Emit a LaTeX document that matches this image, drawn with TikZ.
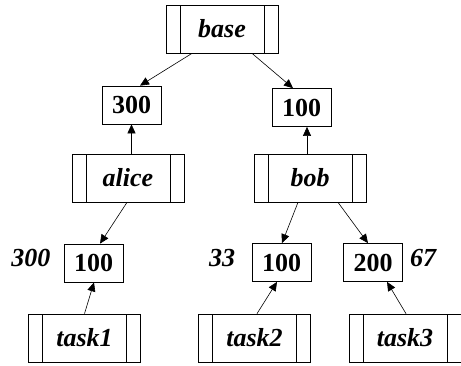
\documentclass[tikz,border=0pt]{standalone}
\usepackage{fontspec}
\setmainfont{Liberation Serif}
\usetikzlibrary{arrows.meta}
\begin{document}
\begin{tikzpicture}[x=1pt,y=-1pt,
  every node/.style={font=\fontsize{26}{30}\selectfont},
  namebox/.style={draw, line width=0.7pt, minimum width=112pt, minimum height=48pt, inner sep=0pt,
    font=\fontsize{26}{30}\selectfont\bfseries\itshape,
    path picture={\draw[line width=0.7pt]
      ([xshift=14pt]path picture bounding box.north west) -- ([xshift=14pt]path picture bounding box.south west)
      ([xshift=-14pt]path picture bounding box.north east) -- ([xshift=-14pt]path picture bounding box.south east);}},
  numbox/.style={draw, line width=0.7pt, minimum width=59pt, minimum height=38pt, inner sep=0pt,
    font=\fontsize{26}{30}\selectfont\bfseries},
  lbl/.style={font=\fontsize{26}{30}\selectfont\bfseries\itshape, inner sep=0pt},
  arr/.style={-{Triangle[length=9pt,width=8pt]}, line width=0.6pt}
]
\useasboundingbox (0,0) rectangle (461,365);
\node[namebox] (base) at (222,29) {base};
\node[numbox] (n300) at (131.5,105) {300};
\node[numbox] (n100r) at (301.5,107.5) {100};
\node[namebox] (alice) at (128,178) {alice};
\node[namebox] (bob) at (310,178) {bob};
\node[numbox] (n100l) at (93.5,263) {100};
\node[numbox] (n100m) at (281.5,262.5) {100};
\node[numbox] (n200) at (373,262.5) {200};
\node[namebox] (task1) at (84.5,338) {task1};
\node[namebox] (task2) at (254.5,338) {task2};
\node[namebox] (task3) at (405,338) {task3};
\node[lbl] (l300) at (31,258) {300};
\node[lbl] (l33) at (222,258) {33};
\node[lbl] (l67) at (423,258) {67};

\draw[arr] ([xshift=-30pt]base.south) -- ([xshift=8.5pt]n300.north);
\draw[arr] ([xshift=30pt]base.south) -- ([xshift=-8.5pt]n100r.north);
\draw[arr] ([xshift=3.5pt]alice.north) -- (n300.south);
\draw[arr] ([xshift=-3pt]bob.north) -- ([xshift=5.5pt]n100r.south);
\draw[arr] ([xshift=-1pt]alice.south) -- ([xshift=6.5pt]n100l.north);
\draw[arr] (task1.north) -- ([xshift=0.5pt]n100l.south);
\draw[arr] ([xshift=-12pt]bob.south) -- ([xshift=0.5pt]n100m.north);
\draw[arr] ([xshift=28pt]bob.south) -- ([xshift=-5pt]n200.north);
\draw[arr] ([xshift=2.5pt]task2.north) -- ([xshift=-4.5pt]n100m.south);
\draw[arr] ([xshift=1pt]task3.north) -- ([xshift=14pt]n200.south);
\end{tikzpicture}
\end{document}
